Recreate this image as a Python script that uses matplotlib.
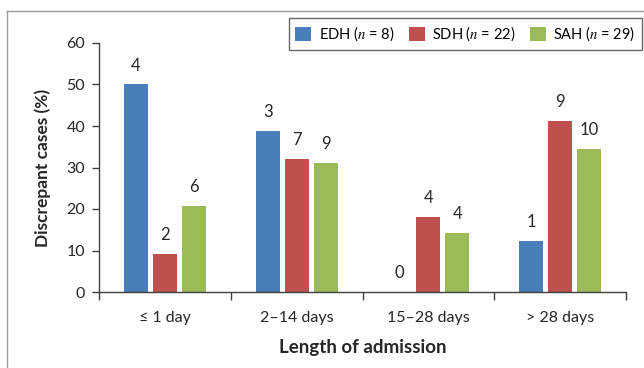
import matplotlib
matplotlib.use("Agg")
import matplotlib.pyplot as plt
import numpy as np
from matplotlib.lines import Line2D

plt.rcParams['font.family'] = ['Lato', 'DejaVu Sans']
plt.rcParams['mathtext.fontset'] = 'stix'

categories = ["\u2264 1 day", "2\u201314 days", "15\u201328 days", "> 28 days"]
series_names = [r"EDH ($n$ = 8)", r"SDH ($n$ = 22)", r"SAH ($n$ = 29)"]
edh = [50.0, 38.8, 0.0, 12.3]
sdh = [9.2, 32.0, 18.1, 41.2]
sah = [20.7, 31.1, 14.2, 34.5]
edh_n = [4, 3, 0, 1]
sdh_n = [2, 7, 4, 9]
sah_n = [6, 9, 4, 10]
colors = ["#4a7ebb", "#c0504d", "#9bbb59"]

fig = plt.figure(figsize=(6.44, 3.68), dpi=100)
ax = fig.add_axes([99/644, 1-292/368, (626-99)/644, (292-43)/368])

x = np.arange(len(categories))
w = 0.182
step = 0.22
handles = []
for i, (vals, counts) in enumerate([(edh, edh_n), (sdh, sdh_n), (sah, sah_n)]):
    pos = x + (i - 1) * step
    b = ax.bar(pos, vals, width=w, color=colors[i], label=series_names[i])
    handles.append(b)
    for p, v, c in zip(pos, vals, counts):
        ax.text(p, v + 2.6, str(c), ha="center", va="bottom", fontsize=12, color="#262626")

ax.set_xlim(-0.5, len(categories) - 0.5)
ax.set_ylim(0, 60)
ax.set_yticks(range(0, 61, 10))
ax.set_xticks(x)
ax.set_xticklabels(categories)
ax.set_xticks(np.arange(-0.5, len(categories), 1), minor=True)
ax.tick_params(axis="x", which="major", length=0, pad=14, labelsize=11.5, labelcolor="#262626")
ax.tick_params(axis="x", which="minor", length=6, width=1, color="#404040")
ax.tick_params(axis="y", length=5, width=1, color="#404040", labelsize=11.5, labelcolor="#262626", pad=5)
for s in ["top", "right"]:
    ax.spines[s].set_visible(False)
for s in ["left", "bottom"]:
    ax.spines[s].set_color("#404040")
    ax.spines[s].set_linewidth(1)

ax.set_ylabel("Discrepant cases (%)", fontsize=12.5, fontweight="bold", color="#262626", labelpad=11)
ax.set_xlabel("Length of admission", fontsize=13.5, fontweight="bold", color="#262626", labelpad=10)

leg = fig.legend(handles=handles, loc="upper right", bbox_to_anchor=(642/644, 1-18/368),
                 ncol=3, fontsize=10.5, frameon=True, fancybox=False, handlelength=1.1,
                 handleheight=1.1, handletextpad=0.5, columnspacing=1.0, borderpad=0.45,
                 borderaxespad=0)
leg.get_frame().set_edgecolor("#404040")
leg.get_frame().set_linewidth(1)

# outer frame (left and top edges visible)
fig.add_artist(Line2D([7/644, 7/644], [0, 1-11/368], transform=fig.transFigure, color="#9a9a9a", lw=1))
fig.add_artist(Line2D([7/644, 1], [1-11/368, 1-11/368], transform=fig.transFigure, color="#9a9a9a", lw=1))

fig.savefig("out.png", dpi=100)
